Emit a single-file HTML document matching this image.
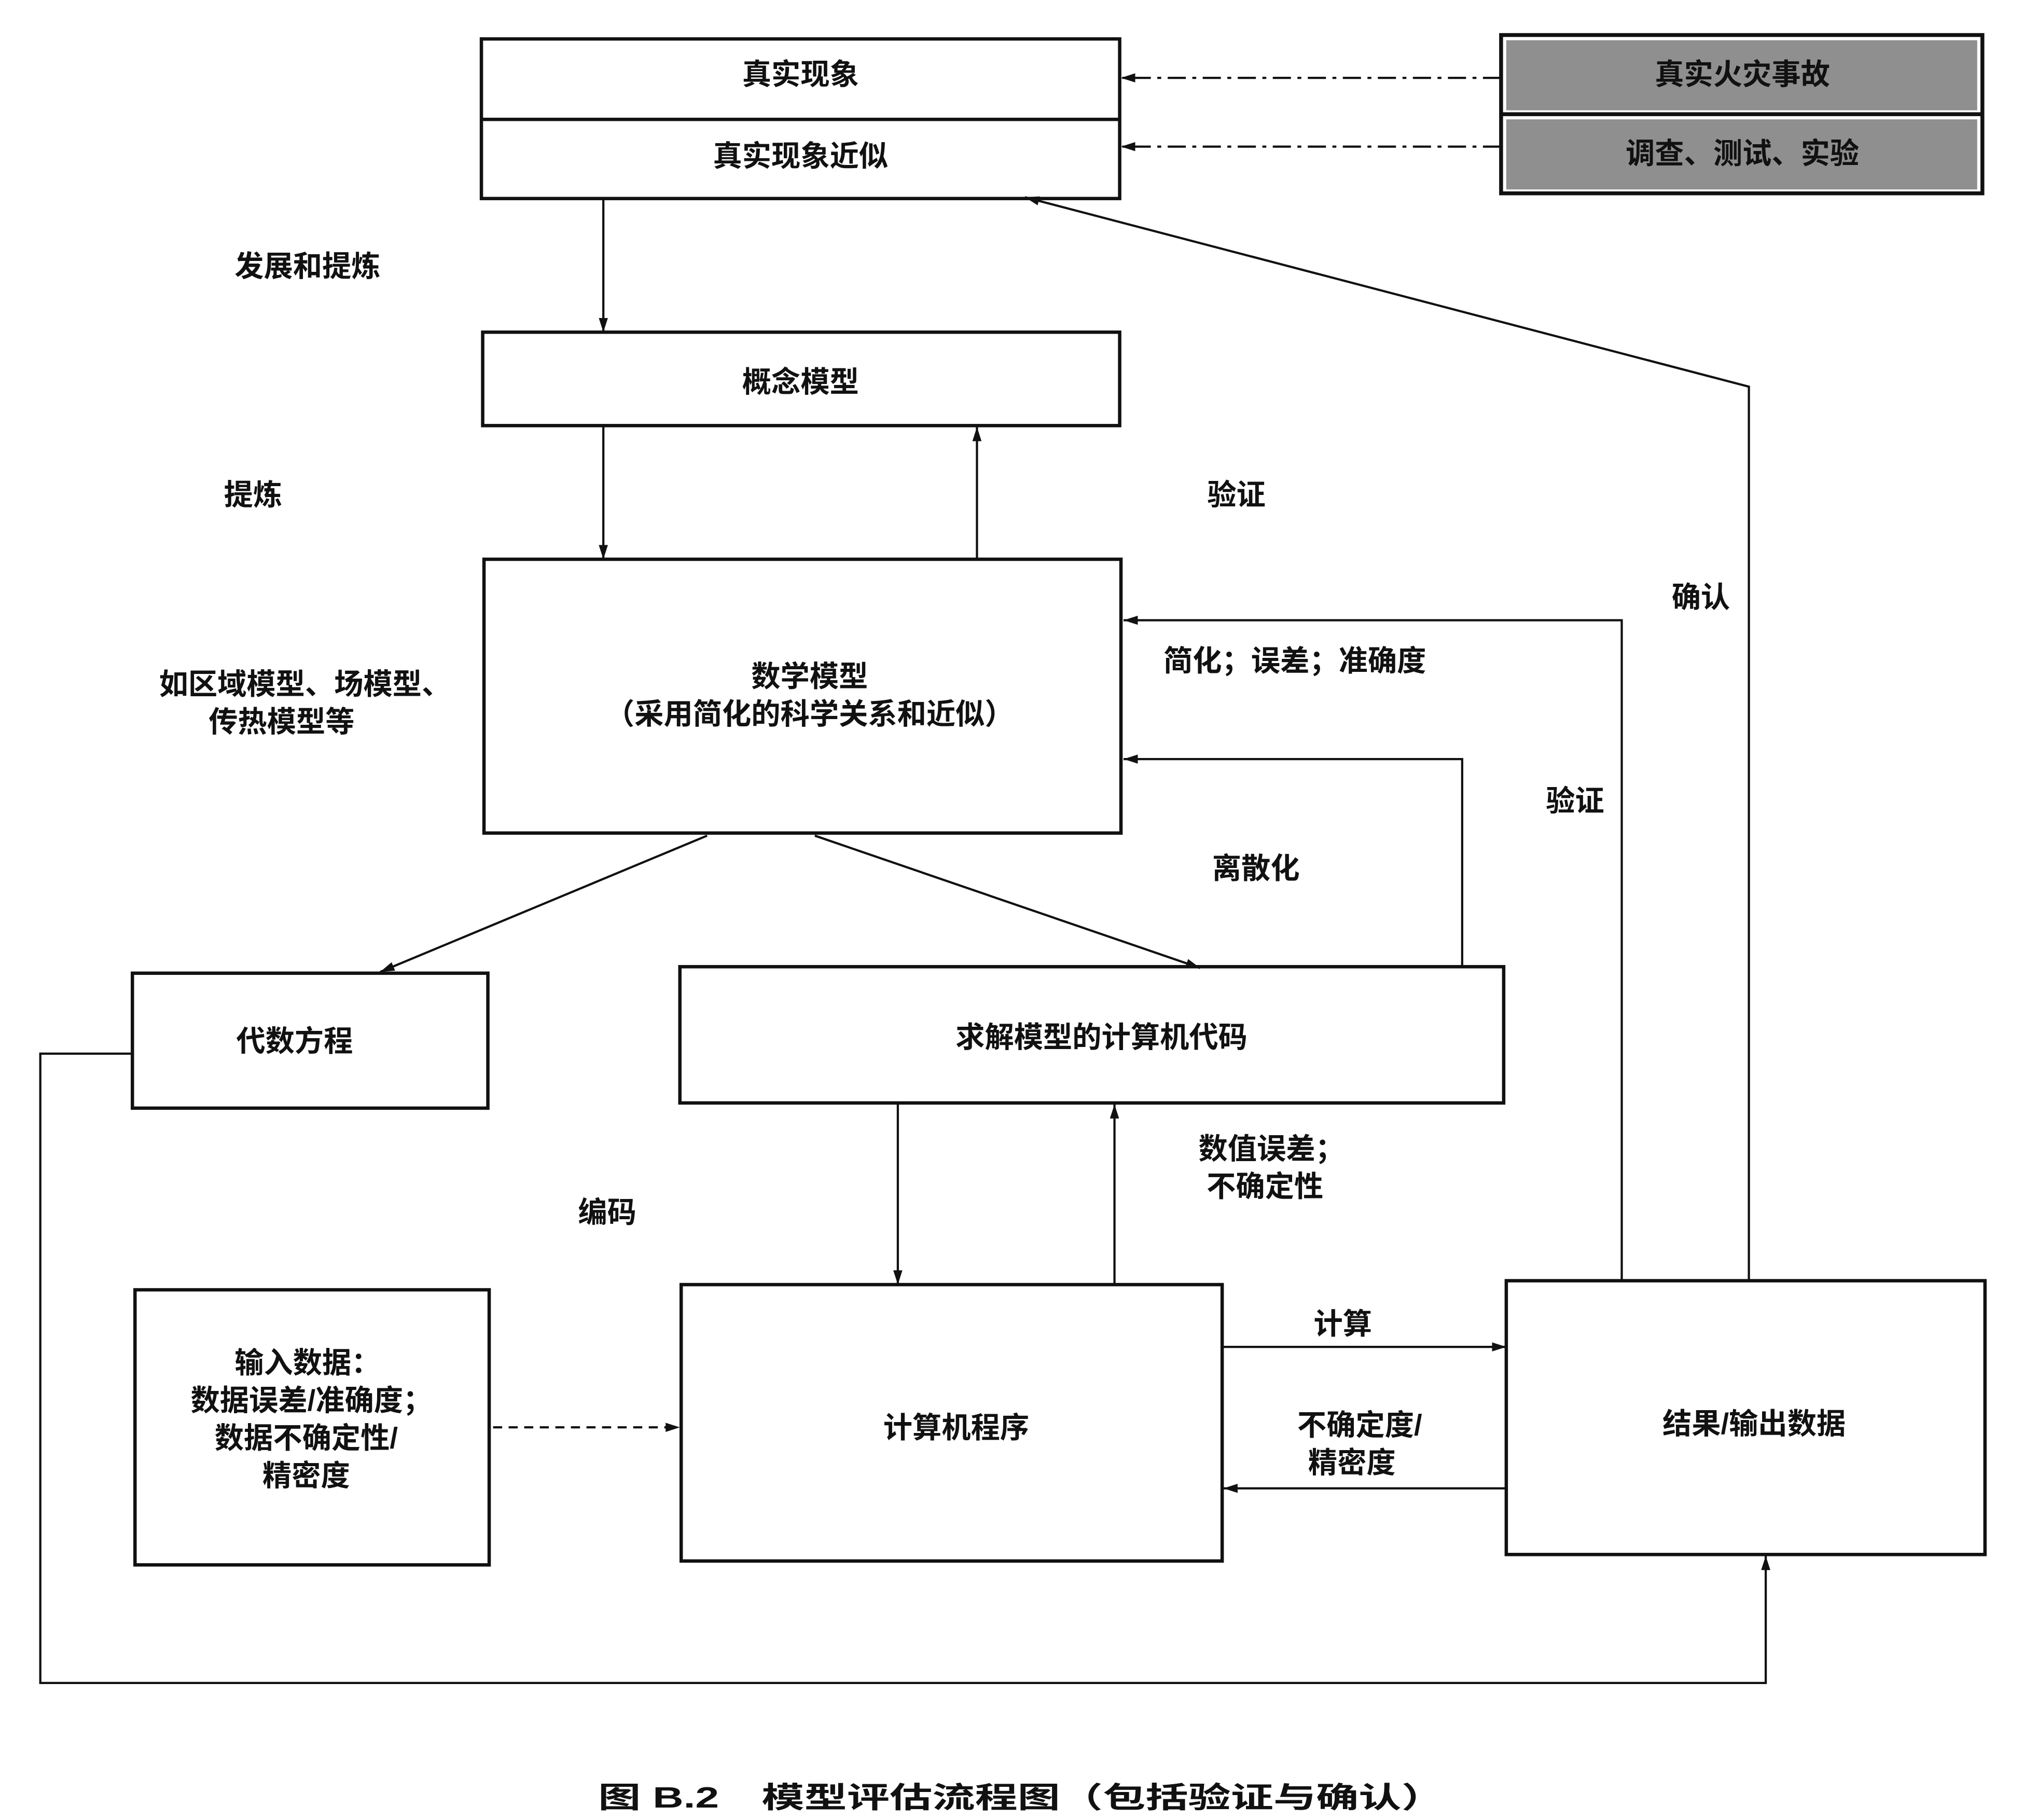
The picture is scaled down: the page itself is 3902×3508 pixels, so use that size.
<!DOCTYPE html>
<html><head><meta charset="utf-8"><style>
html,body{margin:0;padding:0;background:#fff;}
svg{display:block;}
text{font-family:"Liberation Sans","Noto Sans CJK SC",sans-serif;font-size:22.5px;font-weight:bold;fill:#111;text-anchor:middle;}
</style></head><body>
<svg width="3902" height="3508" viewBox="0 0 1560 1402.6" xmlns="http://www.w3.org/2000/svg">
<defs>
<marker id="a" viewBox="0 0 10 10" refX="10" refY="5" markerWidth="11" markerHeight="11" orient="auto" markerUnits="userSpaceOnUse"><path d="M0,1.8 L10,5 L0,8.2 z" fill="#111"/></marker>
</defs>
<g fill="none" stroke="#111" stroke-width="2.6">
<rect x="371" y="30" width="492" height="123"/><line x1="371" y1="92" x2="863" y2="92"/>
<rect x="372" y="256" width="491" height="72"/>
<rect x="373" y="431" width="491" height="211"/>
<rect x="102" y="750" width="274" height="104"/>
<rect x="524" y="745" width="635" height="105"/>
<rect x="104" y="994" width="273" height="212"/>
<rect x="525" y="990" width="417" height="213"/>
<rect x="1161" y="987" width="369" height="211"/>
</g>
<rect x="1157" y="27" width="371" height="122" fill="#fff" stroke="#111" stroke-width="3"/>
<rect x="1161" y="31" width="363" height="54" fill="#8f8f8f"/>
<rect x="1161" y="92" width="363" height="54" fill="#8f8f8f"/>
<line x1="1157" y1="88" x2="1528" y2="88" stroke="#111" stroke-width="3"/>
<g fill="none" stroke="#111" stroke-width="1.7">
<line x1="1157" y1="60" x2="864" y2="60" stroke-dasharray="14,5,3,5" marker-end="url(#a)"/>
<line x1="1157" y1="113" x2="864" y2="113" stroke-dasharray="14,5,3,5" marker-end="url(#a)"/>
<line x1="465" y1="153" x2="465" y2="256" marker-end="url(#a)"/>
<line x1="465" y1="328" x2="465" y2="431" marker-end="url(#a)"/>
<line x1="753" y1="431" x2="753" y2="329" marker-end="url(#a)"/>
<polyline points="1348,987 1348,298 790,152" marker-end="url(#a)"/>
<polyline points="1250,987 1250,478 866,478" marker-end="url(#a)"/>
<polyline points="1127,745 1127,585 866,585" marker-end="url(#a)"/>
<line x1="545" y1="644" x2="293" y2="749" marker-end="url(#a)"/>
<line x1="628" y1="644" x2="925" y2="746" marker-end="url(#a)"/>
<polyline points="102,812 31,812 31,1297 1361,1297 1361,1199" marker-end="url(#a)"/>
<line x1="692" y1="850" x2="692" y2="990" marker-end="url(#a)"/>
<line x1="859" y1="990" x2="859" y2="851" marker-end="url(#a)"/>
<line x1="380" y1="1100" x2="524" y2="1100" stroke-dasharray="7,5" marker-end="url(#a)"/>
<line x1="942" y1="1038" x2="1161" y2="1038" marker-end="url(#a)"/>
<line x1="1161" y1="1147" x2="943" y2="1147" marker-end="url(#a)"/>
</g>
<text x="617" y="65">真实现象</text>
<text x="617" y="128">真实现象近似</text>
<text x="1343" y="65" font-size="24">真实火灾事故</text>
<text x="1343" y="126" font-size="24">调查、测试、实验</text>
<text x="237" y="213">发展和提炼</text>
<text x="617" y="302">概念模型</text>
<text x="195" y="389">提炼</text>
<text x="953" y="389">验证</text>
<text x="624" y="529">数学模型</text>
<text x="624" y="558">（采用简化的科学关系和近似）</text>
<text x="235" y="535">如区域模型、场模型、</text>
<text x="217" y="564">传热模型等</text>
<text x="1311" y="468">确认</text>
<text x="998" y="517">简化；误差；准确度</text>
<text x="1214" y="625">验证</text>
<text x="968" y="677">离散化</text>
<text x="227" y="810">代数方程</text>
<text x="849" y="807">求解模型的计算机代码</text>
<text x="980" y="893">数值误差；</text>
<text x="975" y="922">不确定性</text>
<text x="468" y="942">编码</text>
<text x="237" y="1058">输入数据：</text>
<text x="240" y="1087">数据误差/准确度；</text>
<text x="236" y="1116">数据不确定性/</text>
<text x="236" y="1145">精密度</text>
<text x="737" y="1108">计算机程序</text>
<text x="1035" y="1028">计算</text>
<text x="1048" y="1106">不确定度/</text>
<text x="1042" y="1135">精密度</text>
<text x="1352" y="1105">结果/输出数据</text>
<text x="787" y="1393" font-size="29" font-weight="bold" textLength="652" lengthAdjust="spacingAndGlyphs">图 B.2　模型评估流程图（包括验证与确认）</text>
</svg>
</body></html>
